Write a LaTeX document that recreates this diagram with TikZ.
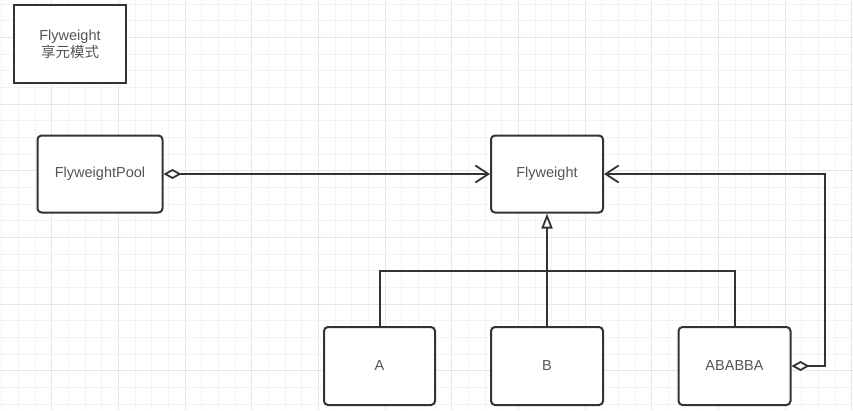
\documentclass[tikz,border=0pt]{standalone}
\usepackage{fontspec}
\setmainfont{Liberation Sans}
\newfontfamily\cjk{Noto Sans CJK SC}
\usetikzlibrary{arrows.meta}
\definecolor{gridminor}{HTML}{F3F3F3}
\definecolor{gridmajor}{HTML}{E6E6E6}
\definecolor{edge}{HTML}{333333}
\definecolor{txt}{HTML}{555555}
\tikzset{
  box/.style={draw=edge, line width=2pt, fill=white, rounded corners=4pt,
    minimum width=112pt, minimum height=78pt, inner sep=0pt,
    font=\fontsize{14.5}{17}\selectfont, text=txt},
  titlebox/.style={box, rounded corners=0pt, align=center},
  conn/.style={draw=edge, line width=2pt},
  agg/.style={conn, {Diamond[open,length=18pt,width=10pt,fill=white,line width=1.8pt]}-{Straight Barb[length=13pt,width=17pt,line width=1.8pt]}},
  inh/.style={conn, -{Triangle[open,length=15pt,width=11pt,fill=white,line width=1.8pt]}}
}
\begin{document}
\begin{tikzpicture}[x=1pt,y=-1pt]
\fill[white] (0,0) rectangle (853,410);
\useasboundingbox (0,0) rectangle (853,410);
% grid
\foreach \k in {0,...,51} {
  \pgfmathtruncatemacro\m{mod(\k,4)}
  \ifnum\m=3
    \draw[gridmajor, line width=1pt] ({1.667+16.667*\k},0) -- ({1.667+16.667*\k},410);
  \else
    \draw[gridminor, line width=0.8pt] ({1.667+16.667*\k},0) -- ({1.667+16.667*\k},410);
  \fi
}
\foreach \k in {0,...,24} {
  \pgfmathtruncatemacro\m{mod(\k,4)}
  \ifnum\m=2
    \draw[gridmajor, line width=1pt] (0,{4+16.667*\k}) -- (853,{4+16.667*\k});
  \else
    \draw[gridminor, line width=0.8pt] (0,{4+16.667*\k}) -- (853,{4+16.667*\k});
  \fi
}
% nodes
\node[titlebox] (title) at (70,44) {Flyweight\\{\cjk 享元模式}};
\node[box, minimum width=125pt, minimum height=77pt] (pool) at (100,174) {FlyweightPool};
\node[box, minimum height=77pt] (fw) at (547,174) {Flyweight};
\node[box, minimum width=111pt] (a) at (379.5,366) {A};
\node[box] (b) at (547,366) {B};
\node[box] (c) at (734.5,366) {ABABBA};
\coordinate (j) at (547,271);
% connectors
\draw[agg] (pool.east) -- (fw.west);
\draw[conn] (a.north) -- (a.north |- j) -- (c.north |- j) -- (c.north);
\draw[inh] (b.north) -- (fw.south);
\draw[agg] (c.east) -- ++(33,0) |- (fw.east);
\end{tikzpicture}
\end{document}
